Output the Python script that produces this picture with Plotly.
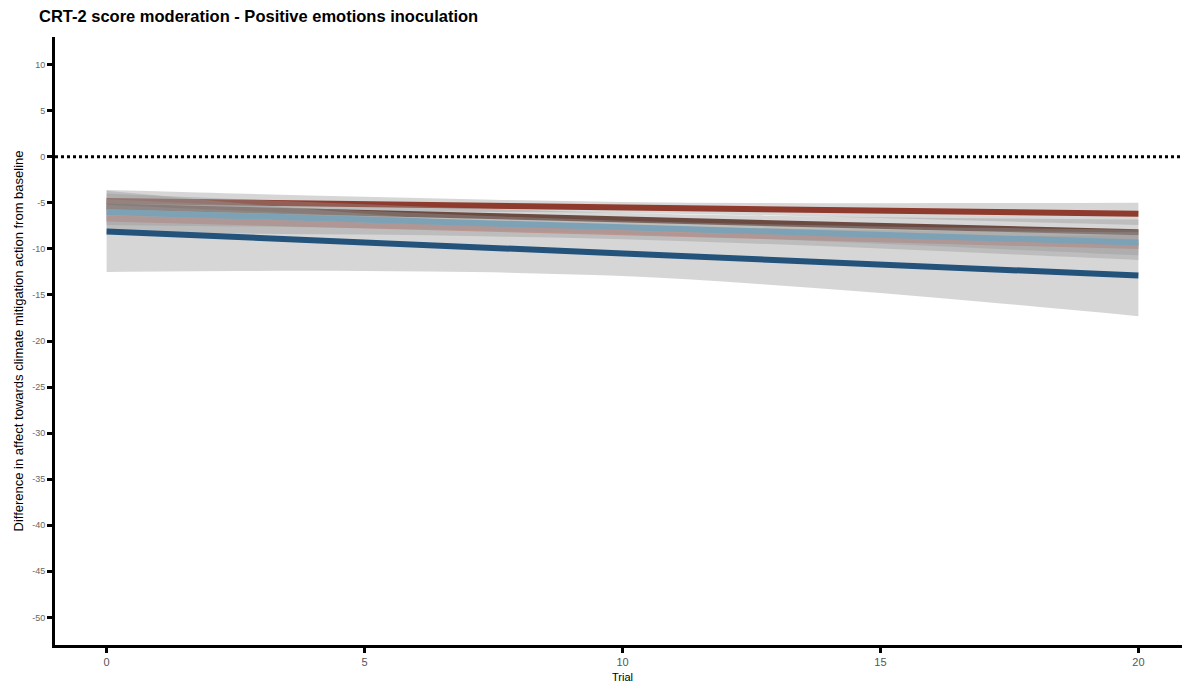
import plotly.graph_objects as go

trial = [0, 2.5, 5, 7.5, 10, 12.5, 15, 17.5, 20]

# Estimated model lines (difference from baseline) per CRT-2 score group
dark_blue_est = [-8.1, -8.7, -9.3, -9.9, -10.5, -11.1, -11.7, -12.3, -12.9]
dark_blue_lo = [-12.5, -12.4, -12.4, -12.55, -12.95, -13.75, -14.8, -16.0, -17.3]
dark_blue_hi = [-3.7, -5.0, -6.2, -7.25, -8.05, -8.45, -8.6, -8.6, -8.5]

light_blue_est = [-6.0, -6.4, -6.8, -7.23, -7.65, -8.08, -8.5, -8.9, -9.3]
light_blue_lo = [-7.4, -7.56, -7.74, -8.0, -8.35, -8.85, -9.44, -10.06, -10.7]
light_blue_hi = [-4.6, -5.24, -5.86, -6.46, -6.95, -7.31, -7.56, -7.74, -7.9]

pink_est = [-6.7, -7.08, -7.45, -7.83, -8.2, -8.58, -8.95, -9.33, -9.7]
pink_lo = [-8.2, -8.33, -8.45, -8.66, -8.95, -9.41, -9.95, -10.58, -11.2]
pink_hi = [-5.2, -5.83, -6.45, -7.0, -7.45, -7.75, -7.95, -8.08, -8.2]

brown_est = [-5.4, -5.75, -6.1, -6.45, -6.8, -7.15, -7.5, -7.85, -8.2]
brown_lo = [-6.8, -6.91, -7.04, -7.22, -7.5, -7.92, -8.44, -9.01, -9.6]
brown_hi = [-4.0, -4.59, -5.16, -5.68, -6.1, -6.38, -6.56, -6.69, -6.8]

red_est = [-4.8, -4.98, -5.15, -5.33, -5.5, -5.68, -5.85, -6.03, -6.2]
red_lo = [-6.0, -5.98, -5.95, -5.99, -6.1, -6.34, -6.65, -7.03, -7.4]
red_hi = [-3.6, -3.98, -4.35, -4.67, -4.9, -5.02, -5.05, -5.03, -5.0]

# drawing order: each group draws its ribbon then its line
groups = [
    ("red", red_est, red_lo, red_hi, "#8E3A2C"),
    ("brown", brown_est, brown_lo, brown_hi, "#6B4A41"),
    ("pink", pink_est, pink_lo, pink_hi, "#D4958D"),
    ("dark blue", dark_blue_est, dark_blue_lo, dark_blue_hi, "#23527A"),
    ("light blue", light_blue_est, light_blue_lo, light_blue_hi, "#7DA2B6"),
]

y_ticks = [10, 5, 0, -5, -10, -15, -20, -25, -30, -35, -40, -45, -50]
x_ticks = [0, 5, 10, 15, 20]

fig = go.Figure()

for name, est, lo, hi, col in groups:
    fig.add_trace(go.Scatter(x=trial, y=lo, mode="lines", line=dict(width=0, shape="spline"),
                             showlegend=False, hoverinfo="skip"))
    fig.add_trace(go.Scatter(x=trial, y=hi, mode="lines", line=dict(width=0, shape="spline"),
                             fill="tonexty", fillcolor="rgba(153,153,153,0.4)",
                             showlegend=False, hoverinfo="skip"))
    fig.add_trace(go.Scatter(x=trial, y=est, mode="lines", line=dict(color=col, width=6),
                             name=name, showlegend=False))

fig.add_hline(y=0, line=dict(color="black", width=3, dash="dot"))

# page body has an 8px margin, so the figure is sized 8px smaller
W, H = 1182, 678
fig.update_layout(
    width=W, height=H,
    margin=dict(l=47, r=0, t=29, b=41, autoexpand=False),
    paper_bgcolor="white", plot_bgcolor="white",
    font=dict(family="Liberation Sans, Arial, sans-serif"),
    title=dict(text="<b>CRT-2 score moderation - Positive emotions inoculation</b>",
               x=31 / W, xanchor="left", xref="container",
               y=1 - 8 / H, yanchor="middle", yref="container",
               pad=dict(l=0, r=0, t=0, b=0),
               font=dict(size=16.5, color="black")),
    showlegend=False,
)
fig.update_xaxes(
    range=[-1, 21], tickvals=x_ticks, ticktext=[str(v) for v in x_ticks],
    showgrid=False, zeroline=False, showline=True, linecolor="black", linewidth=3,
    ticks="outside", ticklen=5, tickwidth=3, tickcolor="black",
    tickfont=dict(size=11, color="#555555"), automargin=False,
    title=dict(text="Trial", font=dict(size=11, color="black"), standoff=7),
)
fig.update_yaxes(
    range=[-53, 13], tickvals=y_ticks, ticktext=[str(v) for v in y_ticks],
    showgrid=False, zeroline=False, showline=True, linecolor="black", linewidth=3,
    ticks="outside", ticklen=5, tickwidth=3, tickcolor="black",
    tickfont=dict(size=9, color="#666666"), automargin=False,
    title=dict(text="Difference in affect towards climate mitigation action from baseline",
               font=dict(size=13, color="black"), standoff=6),
)

fig.write_html("out.html")
